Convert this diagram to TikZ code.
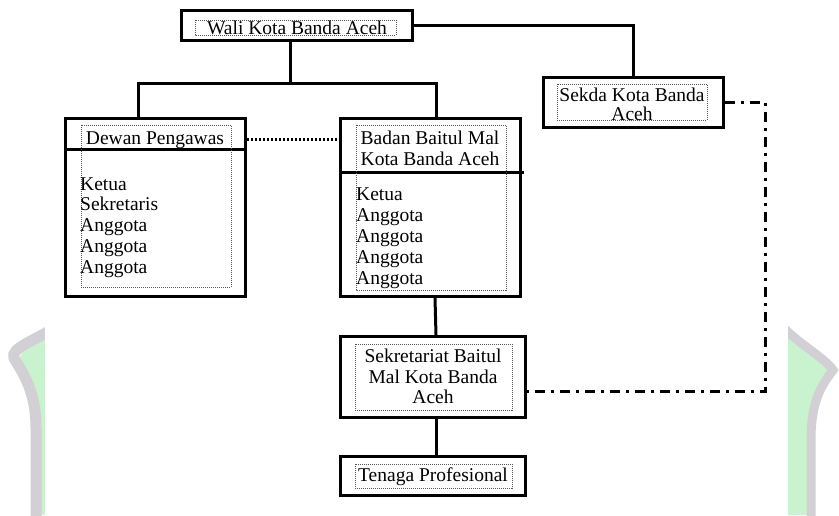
\documentclass[tikz,border=0pt]{standalone}
\usepackage{fontspec}
\setmainfont{Liberation Serif}
\definecolor{wmgreen}{HTML}{C9F2CF}
\definecolor{wmgray}{HTML}{D2D0D4}
\definecolor{dotgray}{HTML}{555555}
\begin{document}
\begin{tikzpicture}[x=1pt,y=-1pt,
  box/.style={draw=black, line width=3pt, inner sep=0pt, fill=none},
  link/.style={draw=black, line width=3pt},
  dotlink/.style={draw=black, line width=3pt, dash pattern=on 2.2pt off 1.8pt},
  dashdotlink/.style={draw=black, line width=3pt, dash pattern=on 10pt off 6pt on 3pt off 6pt},
  dotbox/.style={draw=dotgray, line width=0.9pt, dash pattern=on 1pt off 1pt},
  lbl/.style={inner sep=0pt, font=\fontsize{19.5}{21}\selectfont, text=black},
]
\useasboundingbox (0,0) rectangle (839,515);
\fill[white] (0,0) rectangle (839,515);
% watermark at the edges
\fill[wmgreen] (45,336) .. controls (30,344) and (18,352) .. (20,362)
  .. controls (30,380) and (38,395) .. (38,425) -- (38,515) -- (45,515) -- cycle;
\draw[wmgray, line width=11pt] (54,328) .. controls (36,340) and (10,348) .. (14,358)
  .. controls (22,372) and (36,390) .. (36,428) -- (36,520);
\fill[wmgreen] (788,330) .. controls (800,345) and (825,360) .. (832,370)
  .. controls (822,385) and (811,400) .. (811,440) -- (811,515) -- (788,515) -- cycle;
\draw[wmgray, line width=9pt] (782,326) .. controls (800,345) and (825,358) .. (833,370)
  .. controls (822,385) and (811,400) .. (811,440) -- (811,520);
\fill[white] (45,0) rectangle (788,515);

% boxes
\node[box, minimum width=231pt, minimum height=30pt] (wali) at (296.5,25) {};
\node[box, minimum width=180pt, minimum height=50pt] (sekda) at (633,102) {};
\node[box, minimum width=180pt, minimum height=178pt] (dewan) at (155,207.5) {};
\node[box, minimum width=180pt, minimum height=178pt] (badan) at (430,207.5) {};
\node[box, minimum width=185pt, minimum height=81pt] (sekr) at (433,377) {};
\node[box, minimum width=185pt, minimum height=39pt] (tenaga) at (433,475.5) {};

% dividers
\draw[link] (dewan.west |- 0,149) -- (dewan.east |- 0,149);
\draw[link] (badan.west |- 0,172) -- ([xshift=2pt]badan.east |- 0,172);

% inner dotted frames
\draw[dotbox] (195,20) rectangle (396,35);
\draw[dotbox] (557,84) rectangle (707,120);
\draw[dotbox] (81,125) rectangle (231,287);
\draw[dotbox] (356,125) rectangle (506,290);
\draw[dotbox] (355,344) rectangle (512,410);
\draw[dotbox] (355,464) rectangle (512,488);

% texts
\node[lbl, anchor=base] (t-wali) at (297,34) {Wali Kota Banda Aceh};
\node[lbl, anchor=base] (t-sekda1) at (632,101) {Sekda Kota Banda};
\node[lbl, anchor=base] (t-sekda2) at (632,120) {Aceh};
\node[lbl, anchor=base] (t-dewan) at (155,144) {Dewan Pengawas};
\node[lbl, anchor=base] (t-badan1) at (430,144) {Badan Baitul Mal};
\node[lbl, anchor=base] (t-badan2) at (430,165) {Kota Banda Aceh};
\foreach \t/\y [count=\i] in {Ketua/190, Sekretaris/210, Anggota/231, Anggota/252, Anggota/273}
  \node[lbl, anchor=base west] (d-\i) at (80,\y) {\t};
\foreach \t/\y [count=\i] in {Ketua/200, Anggota/221, Anggota/242, Anggota/263, Anggota/284}
  \node[lbl, anchor=base west] (b-\i) at (356,\y) {\t};
\node[lbl, anchor=base] (t-sekr1) at (433,362) {Sekretariat Baitul};
\node[lbl, anchor=base] (t-sekr2) at (433,383) {Mal Kota Banda};
\node[lbl, anchor=base] (t-sekr3) at (433,403) {Aceh};
\node[lbl, anchor=base] (t-tenaga) at (433,481) {Tenaga Profesional};

% connectors
\coordinate (jn) at (290,83);
\coordinate (dl) at (138,83);
\coordinate (br) at (436,83);
\draw[link] (wali.south -| jn) -- (jn);
\draw[link] (dl |- dewan.north) -- (dl) -- (br) -- (br |- badan.north);
\draw[link] (wali.east) -- (sekda.north |- wali.east) -- (sekda.north);
\draw[link] (badan.south -| 435,0) -- (sekr.north -| 436,0);
\draw[link] (sekr.south -| 436,0) -- (tenaga.north -| 436,0);
\draw[dotlink] (dewan.east |- 0,139) -- (badan.west |- 0,139);
\coordinate (dd) at (765,391);
\draw[dashdotlink] (sekda.east) -- (dd |- sekda.east) -- (dd) -- (sekr.east |- dd);
\end{tikzpicture}
\end{document}
